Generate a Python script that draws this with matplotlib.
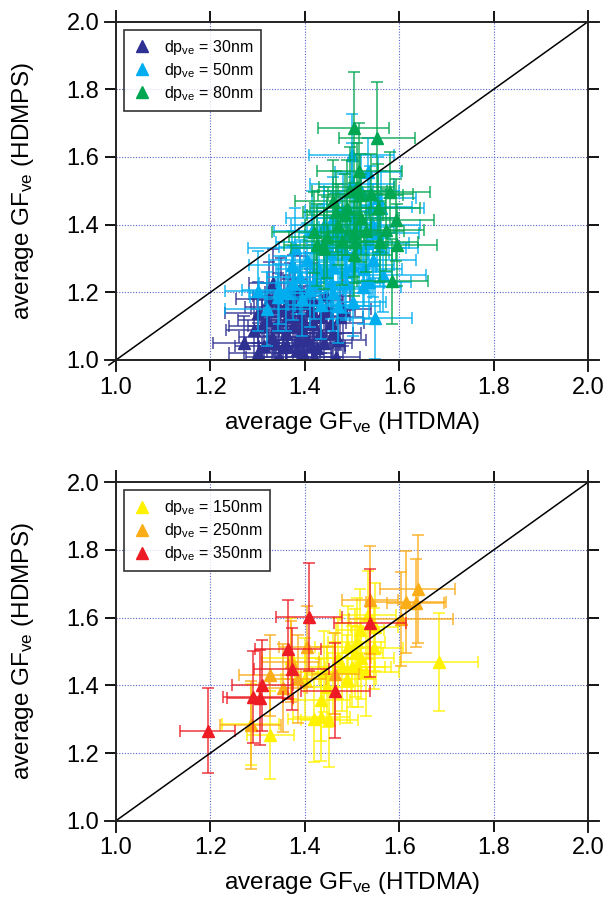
import numpy as np
import matplotlib
matplotlib.use('Agg')
import matplotlib.pyplot as plt
from matplotlib.lines import Line2D

plt.rcParams['font.family'] = ['Liberation Sans', 'DejaVu Sans']
plt.rcParams['mathtext.fontset'] = 'custom'
plt.rcParams['mathtext.rm'] = 'Liberation Sans'
plt.rcParams['mathtext.it'] = 'Liberation Sans:italic'

# ---- top panel data (x = HTDMA GF, y = HDMPS GF, with errors) ----
x30 = [1.271, 1.313, 1.292, 1.466, 1.332, 1.319, 1.344, 1.361, 1.390, 1.404, 1.425, 1.375, 1.418, 1.390, 1.368,
       1.446, 1.460, 1.354, 1.397, 1.474, 1.340, 1.383, 1.432, 1.330, 1.418, 1.300, 1.350, 1.410, 1.440, 1.380,
       1.300, 1.345, 1.365, 1.395, 1.420, 1.455, 1.470, 1.325, 1.385, 1.405, 1.355, 1.435, 1.375, 1.415, 1.445,
       1.310, 1.480, 1.335, 1.398, 1.362]
y30 = [1.049, 1.041, 1.089, 1.008, 1.227, 1.118, 1.158, 1.079, 1.128, 1.059, 1.034, 1.099, 1.108, 1.207, 1.177,
       1.148, 1.079, 1.039, 1.020, 1.128, 1.099, 1.030, 1.079, 1.069, 1.177, 1.140, 1.190, 1.150, 1.050, 1.160,
       1.020, 1.010, 1.130, 1.090, 1.010, 1.110, 1.060, 1.180, 1.060, 1.170, 1.150, 1.130, 1.200, 1.040, 1.190,
       1.100, 1.150, 1.050, 1.110, 1.040]
xe30 = [0.065, 0.06, 0.06, 0.05, 0.05, 0.06, 0.07, 0.06, 0.07, 0.05, 0.06, 0.06, 0.07, 0.06, 0.07,
        0.06, 0.06, 0.05, 0.06, 0.05, 0.06, 0.05, 0.07, 0.07, 0.06, 0.07, 0.06, 0.05, 0.06, 0.07,
        0.06, 0.07, 0.06, 0.05, 0.06, 0.07, 0.06, 0.07, 0.06, 0.05, 0.07, 0.06, 0.06, 0.07, 0.05,
        0.07, 0.06, 0.06, 0.07, 0.06]
ye30 = [0.08, 0.09, 0.09, 0.07, 0.10, 0.11, 0.10, 0.10, 0.11, 0.10, 0.09, 0.12, 0.11, 0.10, 0.11,
        0.10, 0.11, 0.08, 0.09, 0.10, 0.10, 0.08, 0.12, 0.10, 0.11, 0.09, 0.11, 0.12, 0.08, 0.10,
        0.09, 0.08, 0.11, 0.10, 0.08, 0.11, 0.10, 0.11, 0.09, 0.12, 0.10, 0.11, 0.11, 0.09, 0.12,
        0.10, 0.11, 0.09, 0.11, 0.09]

x50 = [1.301, 1.344, 1.374, 1.346, 1.548, 1.499, 1.534, 1.562, 1.435, 1.460, 1.566, 1.545, 1.502, 1.524, 1.404,
       1.460, 1.425, 1.488, 1.390, 1.446, 1.372, 1.467, 1.531, 1.411, 1.361, 1.488, 1.453, 1.538, 1.510, 1.552,
       1.480, 1.520, 1.440, 1.500, 1.560, 1.320, 1.380, 1.415, 1.455, 1.475, 1.505, 1.525, 1.545, 1.430, 1.395,
       1.470, 1.515, 1.490, 1.555, 1.440, 1.500, 1.460, 1.535, 1.420, 1.485]
y50 = [1.205, 1.185, 1.227, 1.207, 1.123, 1.606, 1.557, 1.448, 1.163, 1.197, 1.251, 1.296, 1.172, 1.217, 1.296,
       1.276, 1.335, 1.315, 1.246, 1.256, 1.281, 1.374, 1.345, 1.207, 1.197, 1.227, 1.315, 1.453, 1.394, 1.374,
       1.440, 1.500, 1.400, 1.280, 1.330, 1.150, 1.330, 1.380, 1.230, 1.330, 1.420, 1.270, 1.400, 1.270, 1.180,
       1.160, 1.330, 1.370, 1.480, 1.350, 1.520, 1.420, 1.230, 1.230, 1.260]
xe50 = [0.07, 0.06, 0.07, 0.08, 0.08, 0.09, 0.07, 0.09, 0.07, 0.08, 0.09, 0.09, 0.07, 0.08, 0.08,
        0.09, 0.08, 0.09, 0.07, 0.08, 0.09, 0.08, 0.09, 0.07, 0.08, 0.08, 0.08, 0.09, 0.08, 0.09,
        0.08, 0.08, 0.07, 0.09, 0.08, 0.09, 0.10, 0.08, 0.09, 0.10, 0.09, 0.08, 0.10, 0.09, 0.08,
        0.09, 0.10, 0.09, 0.08, 0.10, 0.09, 0.10, 0.09, 0.08, 0.10]
ye50 = [0.118, 0.10, 0.11, 0.10, 0.12, 0.12, 0.10, 0.11, 0.10, 0.11, 0.11, 0.11, 0.10, 0.11, 0.11,
        0.11, 0.12, 0.11, 0.11, 0.11, 0.10, 0.12, 0.11, 0.11, 0.11, 0.11, 0.11, 0.12, 0.11, 0.11,
        0.11, 0.11, 0.11, 0.11, 0.11, 0.11, 0.12, 0.12, 0.11, 0.12, 0.12, 0.11, 0.12, 0.11, 0.11,
        0.11, 0.12, 0.12, 0.12, 0.11, 0.12, 0.12, 0.11, 0.11, 0.12]

x80 = [1.504, 1.553, 1.580, 1.517, 1.510, 1.467, 1.485, 1.420, 1.446, 1.426, 1.479, 1.504, 1.504, 1.572, 1.594,
       1.596, 1.585, 1.507, 1.540, 1.495, 1.460, 1.520, 1.470, 1.555, 1.530, 1.490, 1.440, 1.560, 1.515]
y80 = [1.687, 1.657, 1.496, 1.488, 1.512, 1.438, 1.429, 1.377, 1.363, 1.340, 1.353, 1.374, 1.310, 1.384, 1.414,
       1.340, 1.232, 1.348, 1.490, 1.500, 1.470, 1.420, 1.400, 1.450, 1.380, 1.450, 1.330, 1.350, 1.560]
xe80 = [0.075, 0.08, 0.085, 0.09, 0.08, 0.07, 0.08, 0.09, 0.08, 0.07, 0.08, 0.07, 0.08, 0.08, 0.08,
        0.085, 0.075, 0.07, 0.09, 0.08, 0.08, 0.08, 0.07, 0.09, 0.08, 0.08, 0.07, 0.08, 0.09]
ye80 = [0.165, 0.165, 0.12, 0.12, 0.13, 0.12, 0.12, 0.12, 0.12, 0.12, 0.13, 0.13, 0.12, 0.12, 0.12,
        0.12, 0.125, 0.12, 0.12, 0.13, 0.12, 0.13, 0.12, 0.13, 0.12, 0.14, 0.12, 0.12, 0.14]

# ---- bottom panel data ----
x150 = [1.684, 1.327, 1.420, 1.435, 1.452, 1.435, 1.448, 1.478, 1.499, 1.506, 1.510, 1.517, 1.534, 1.547, 1.548,
        1.492, 1.513, 1.460, 1.370, 1.285, 1.470, 1.490, 1.520, 1.400, 1.440, 1.530]
y150 = [1.470, 1.253, 1.302, 1.307, 1.298, 1.357, 1.396, 1.455, 1.455, 1.495, 1.529, 1.564, 1.608, 1.509, 1.573,
        1.514, 1.455, 1.435, 1.480, 1.285, 1.480, 1.420, 1.480, 1.420, 1.440, 1.440]
xe150 = [0.082, 0.05, 0.055, 0.06, 0.06, 0.06, 0.05, 0.07, 0.07, 0.06, 0.06, 0.05, 0.06, 0.06, 0.05,
         0.07, 0.07, 0.06, 0.06, 0.06, 0.07, 0.06, 0.07, 0.05, 0.06, 0.07]
ye150 = [0.145, 0.13, 0.13, 0.13, 0.14, 0.12, 0.12, 0.13, 0.12, 0.13, 0.13, 0.12, 0.13, 0.12, 0.13,
         0.12, 0.12, 0.12, 0.12, 0.12, 0.12, 0.13, 0.12, 0.12, 0.12, 0.13]

x250 = [1.285, 1.326, 1.354, 1.385, 1.405, 1.538, 1.614, 1.639, 1.635, 1.603, 1.465, 1.370]
y250 = [1.283, 1.430, 1.391, 1.418, 1.514, 1.652, 1.647, 1.684, 1.642, 1.596, 1.435, 1.470]
xe250 = [0.065, 0.065, 0.05, 0.06, 0.06, 0.06, 0.085, 0.08, 0.06, 0.11, 0.05, 0.06]
ye250 = [0.13, 0.12, 0.13, 0.13, 0.12, 0.16, 0.15, 0.16, 0.13, 0.14, 0.12, 0.12]

x350 = [1.194, 1.290, 1.306, 1.310, 1.365, 1.372, 1.409, 1.465, 1.538]
y350 = [1.266, 1.366, 1.363, 1.400, 1.506, 1.448, 1.603, 1.384, 1.585]
xe350 = [0.059, 0.063, 0.07, 0.065, 0.07, 0.08, 0.07, 0.074, 0.077]
ye350 = [0.125, 0.135, 0.14, 0.135, 0.145, 0.12, 0.16, 0.14, 0.16]

top_series = [
    (x30, y30, xe30, ye30, '#2e3192', 'dp$_{\\mathrm{ve}}$ = 30nm'),
    (x50, y50, xe50, ye50, '#00aeef', 'dp$_{\\mathrm{ve}}$ = 50nm'),
    (x80, y80, xe80, ye80, '#00a651', 'dp$_{\\mathrm{ve}}$ = 80nm'),
]
bottom_series = [
    (x150, y150, xe150, ye150, '#fff200', 'dp$_{\\mathrm{ve}}$ = 150nm'),
    (x250, y250, xe250, ye250, '#fbad18', 'dp$_{\\mathrm{ve}}$ = 250nm'),
    (x350, y350, xe350, ye350, '#ed1c24', 'dp$_{\\mathrm{ve}}$ = 350nm'),
]

fig = plt.figure(figsize=(6.09, 8.99), dpi=100)
ax_top = fig.add_axes([0.1905, 0.5996, 0.775, 0.3763])
ax_bot = fig.add_axes([0.1905, 0.0871, 0.775, 0.3764])

ticks = [1.0, 1.2, 1.4, 1.6, 1.8, 2.0]


def style_axes(ax, series, diag_start):
    handles = []
    # each series: bars and markers together, so later series sit on top
    for i, (x, y, xe, ye, c, lab) in enumerate(series):
        ax.errorbar(x, y, xerr=xe, yerr=ye, fmt='none', ecolor=c, alpha=0.75,
                    elinewidth=1.3, capsize=4, capthick=1.3, zorder=2 + 2 * i)
        ax.plot(x, y, '^', color=c, ms=8, ls='none', zorder=3 + 2 * i)
        handles.append(Line2D([], [], marker='^', color=c, ms=8, ls='none', label=lab))

    ax.plot([diag_start, 2.0], [diag_start, 2.0], color='black', lw=1.1, zorder=20, clip_on=False)

    ax.set_xlim(1.0, 2.0)
    ax.set_ylim(1.0, 2.0)
    ax.set_xticks(ticks)
    ax.set_yticks(ticks)
    ax.set_xticklabels(['%.1f' % t for t in ticks])
    ax.set_yticklabels(['%.1f' % t for t in ticks])
    ax.tick_params(direction='out', length=8, width=1.3, labelsize=17, pad=4,
                   top=True, right=True, labeltop=False, labelright=False)

    # blue dotted grid
    for g in [1.2, 1.4, 1.6, 1.8]:
        ax.axvline(g, color='#5566cc', ls=(0, (1, 1.5)), lw=0.8, zorder=1)
        ax.axhline(g, color='#5566cc', ls=(0, (1, 1.5)), lw=0.8, zorder=1)

    # frame lines extending past the corners
    for s in ax.spines.values():
        s.set_visible(False)
    ex = 11 / 472
    ey = 11 / 338
    kw = dict(transform=ax.transAxes, color='#222222', lw=1.4, clip_on=False, zorder=21)
    ax.plot([-ex, 1 + ex], [0, 0], **kw)
    ax.plot([-ex, 1 + ex], [1, 1], **kw)
    ax.plot([0, 0], [-ey, 1 + ey], **kw)
    ax.plot([1, 1], [-ey, 1 + ey], **kw)

    ax.set_xlabel('average GF$_{\\mathrm{ve}}$ (HTDMA)', fontsize=17.5, labelpad=8)
    ax.set_ylabel('average GF$_{\\mathrm{ve}}$ (HDMPS)', fontsize=17.5, labelpad=22)

    leg = ax.legend(handles=handles, loc='upper left', fontsize=11.5, frameon=True, fancybox=False,
                    handlelength=1.2, handletextpad=0.8, borderpad=0.5,
                    labelspacing=0.25, borderaxespad=0.5)
    leg.get_frame().set_edgecolor('black')
    leg.get_frame().set_linewidth(1.2)
    leg.set_zorder(30)


style_axes(ax_top, top_series, 0.985)
style_axes(ax_bot, bottom_series, 1.0)

fig.savefig('out.png', dpi=100)
